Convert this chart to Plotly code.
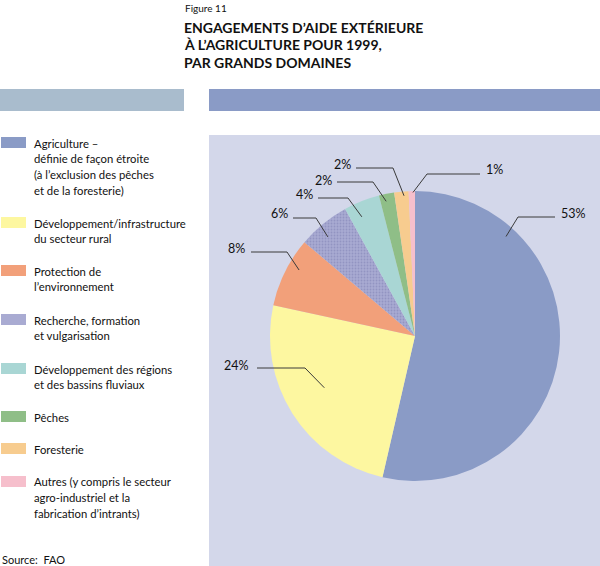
import math
import plotly.graph_objects as go

# ---------------- data ----------------
categories = [
    "Agriculture –<br>définie de façon étroite<br>(à l’exclusion des pêches<br>et de la foresterie)",
    "Développement/infrastructure<br>du secteur rural",
    "Protection de<br>l’environnement",
    "Recherche, formation<br>et vulgarisation",
    "Développement des régions<br>et des bassins fluviaux",
    "Pêches",
    "Foresterie",
    "Autres (y compris le secteur<br>agro-industriel et la<br>fabrication d’intrants)",
]
values = [53.6, 24.8, 7.8, 5.8, 4.0, 1.7, 1.6, 0.7]
pct_labels = ["53%", "24%", "8%", "6%", "4%", "2%", "2%", "1%"]

# ---------------- style ----------------
colors = ["#8a9bc6", "#fdf7a0", "#f2a07a", "#a9abd2", "#a9d6d4", "#8fbe87", "#f7cc8f", "#f6bfcc"]
patterns = ["", "", "", ".", "", "", "", ""]
FONT = "Lato"
W, H = 600, 566

# pie geometry in pixels
CX, CY, R = 415, 336, 145

# legend layout (first-line centre y, pixels) and line spacing
legend_y = [143, 223, 271, 320, 369, 417, 449, 482]
LINE = 15.7

# label leader layout: anchor position within slice (fraction, radius factor),
# elbow point (px), horizontal end x (px), text anchor x (px), text y (px), side
leader = [
    (0.22, 0.93, (518, 217), 555, 559, 213, "left"),
    (0.53, 0.72, (305, 368), 257, 251, 365, "right"),
    (0.62, 0.92, (287, 252), 251, 247, 248, "right"),
    (0.40, 0.91, (316, 218), 293, 290, 213, "right"),
    (0.33, 0.90, (348, 198), 318, 315, 194, "right"),
    (0.38, 0.95, (373, 182), 337, 334, 180, "right"),
    (0.66, 0.97, (393, 168), 356, 353, 164, "right"),
    (0.68, 0.99, (427, 174), 480, 484, 169, "left"),
]


def px(x):
    return x / W


def py(y):
    return 1 - y / H


fig = go.Figure()

fig.add_trace(go.Pie(
    labels=[c.replace("<br>", " ") for c in categories],
    values=values,
    sort=False,
    direction="clockwise",
    rotation=0,
    textinfo="none",
    hoverinfo="label+percent",
    marker=dict(colors=colors, line=dict(width=0),
                pattern=dict(shape=patterns, bgcolor=colors, fgcolor="#9294c2",
                             size=3, solidity=0.3)),
    domain=dict(x=[px(CX - R), px(CX + R)], y=[py(CY + R), py(CY - R)]),
    showlegend=False,
))

shapes = []
annotations = []

# background panel and header bars
shapes.append(dict(type="rect", xref="paper", yref="paper", x0=px(209), x1=px(600),
                   y0=py(566), y1=py(135), fillcolor="#d3d7ea", line=dict(width=0), layer="below"))
shapes.append(dict(type="rect", xref="paper", yref="paper", x0=px(209), x1=px(600),
                   y0=py(111), y1=py(89), fillcolor="#8a9bc6", line=dict(width=0), layer="below"))
shapes.append(dict(type="rect", xref="paper", yref="paper", x0=px(0), x1=px(184),
                   y0=py(111), y1=py(89), fillcolor="#a9bccd", line=dict(width=0), layer="below"))

# titles
annotations.append(dict(x=px(183), y=py(8), xref="paper", yref="paper", xanchor="left", yanchor="middle",
                        text="Figure 11", showarrow=False, font=dict(family=FONT, size=10, color="#111")))
title_lines = ["ENGAGEMENTS D’AIDE EXTÉRIEURE", "À L’AGRICULTURE POUR 1999,", "PAR GRANDS DOMAINES"]
for i, t in enumerate(title_lines):
    annotations.append(dict(x=px(182), y=py(27 + i * 17.5), xref="paper", yref="paper", xanchor="left",
                            yanchor="middle", text=f"<b>{t}</b>", showarrow=False,
                            font=dict(family=FONT, size=14, color="#111")))

# legend
for cat, col, ly in zip(categories, colors, legend_y):
    shapes.append(dict(type="rect", xref="paper", yref="paper", x0=px(1), x1=px(26),
                       y0=py(ly + 5), y1=py(ly - 6), fillcolor=col, line=dict(width=0)))
    for j, line in enumerate(cat.split("<br>")):
        annotations.append(dict(x=px(32), y=py(ly + j * LINE), xref="paper", yref="paper",
                                xanchor="left", yanchor="middle", text=line, showarrow=False,
                                font=dict(family=FONT, size=11.3, color="#111")))

annotations.append(dict(x=px(0), y=py(559), xref="paper", yref="paper", xanchor="left", yanchor="middle",
                        text="Source:  FAO", showarrow=False, font=dict(family=FONT, size=11, color="#111")))

# percentage labels with leader lines (angles derived from the values)
total = sum(values)
cum = 0.0
for v, lab, (frac, rf, elbow, endx, tx, ty, side) in zip(values, pct_labels, leader):
    ang = 2 * math.pi * (cum + frac * v) / total
    cum += v
    ax = CX + rf * R * math.sin(ang)
    ay = CY - rf * R * math.cos(ang)
    ex, ey = elbow
    path = f"M {px(ax)},{py(ay)} L {px(ex)},{py(ey)} L {px(endx)},{py(ey)}"
    shapes.append(dict(type="path", xref="paper", yref="paper", path=path,
                       line=dict(color="#3a3a3a", width=1)))
    annotations.append(dict(x=px(tx), y=py(ty), xref="paper", yref="paper",
                            xanchor=side, yanchor="middle", text=lab, showarrow=False,
                            font=dict(family=FONT, size=12.5, color="#111")))

fig.update_layout(
    width=W, height=H,
    margin=dict(l=0, r=0, t=0, b=0),
    paper_bgcolor="white",
    plot_bgcolor="white",
    shapes=shapes,
    annotations=annotations,
)

fig.write_html("out.html", config={"displayModeBar": False},
               post_script="document.body.style.margin='0px';document.body.style.padding='0px';")
